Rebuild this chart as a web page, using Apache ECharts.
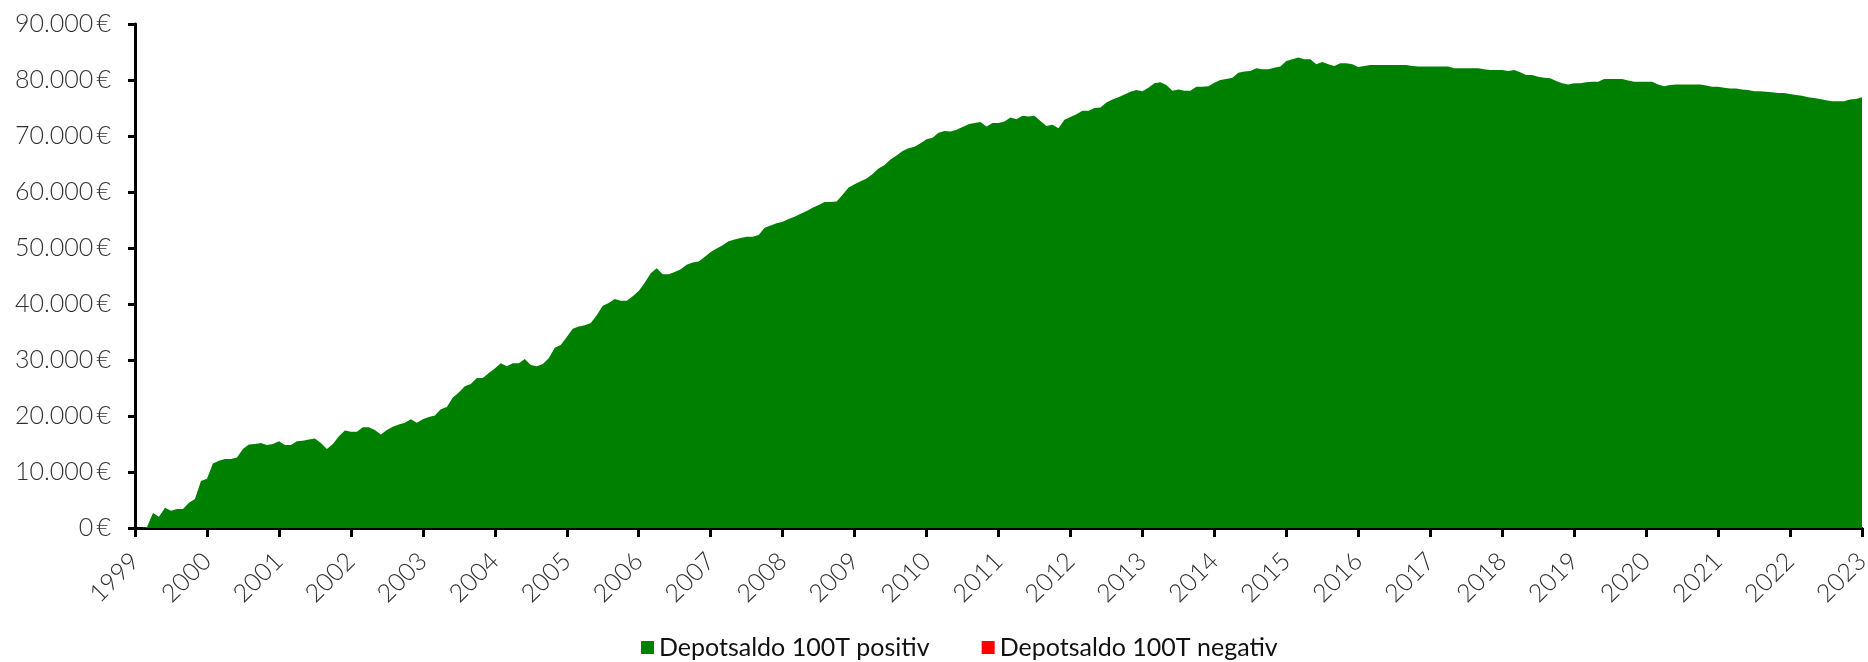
<!DOCTYPE html>
<html>
<head>
<meta charset="utf-8">
<script src="https://cdn.jsdelivr.net/npm/echarts@6/dist/echarts.min.js"></script>
<style>
  html, body { margin: 0; padding: 0; background: #fff; }
  #main { width: 1868px; height: 662px; }
</style>
</head>
<body>
<div id="main"></div>
<script>
// Monatswerte Jan 1999 .. Jan 2023 (eine Zeile pro Jahr)
const depotPositiv = [
  0, 0, 200, 2700, 2000, 3600, 3100, 3400, 3400, 4500, 5200, 8400,
  8800, 11500, 12000, 12300, 12300, 12600, 14100, 14900, 15000, 15200, 14800, 15000,
  15500, 14800, 14800, 15500, 15600, 15800, 16000, 15200, 14100, 15000, 16400, 17400,
  17200, 17200, 18000, 18000, 17500, 16700, 17500, 18100, 18500, 18800, 19400, 18800,
  19400, 19800, 20100, 21200, 21600, 23300, 24200, 25300, 25700, 26800, 26800, 27700,
  28500, 29400, 28900, 29400, 29400, 30200, 29100, 28900, 29300, 30300, 32200, 32700,
  34100, 35600, 36000, 36200, 36600, 38000, 39700, 40200, 40900, 40600, 40600, 41400,
  42300, 43800, 45500, 46400, 45300, 45300, 45700, 46200, 47000, 47400, 47600, 48400,
  49300, 49900, 50500, 51200, 51500, 51800, 52000, 52000, 52300, 53600, 54000, 54400,
  54700, 55200, 55600, 56100, 56600, 57200, 57700, 58200, 58200, 58300, 59500, 60800,
  61400, 61900, 62400, 63200, 64200, 64800, 65800, 66500, 67300, 67800, 68100, 68700,
  69400, 69700, 70600, 70900, 70800, 71100, 71600, 72100, 72300, 72500, 71700, 72300,
  72300, 72600, 73300, 73000, 73600, 73500, 73600, 72700, 71800, 72000, 71400, 72900,
  73400, 73900, 74500, 74500, 75000, 75100, 76000, 76500, 76900, 77400, 77900, 78200,
  78000, 78600, 79400, 79600, 79100, 78100, 78300, 78100, 78100, 78800, 78800, 78900,
  79500, 80000, 80200, 80400, 81300, 81500, 81600, 82100, 81900, 81900, 82200, 82400,
  83400, 83700, 84000, 83700, 83700, 82800, 83200, 82800, 82500, 83000, 83000, 82800,
  82300, 82500, 82700, 82700, 82700, 82700, 82700, 82700, 82700, 82500, 82400, 82400,
  82400, 82400, 82400, 82400, 82100, 82100, 82100, 82100, 82100, 81900, 81800, 81800,
  81800, 81600, 81800, 81400, 80900, 80900, 80600, 80400, 80300, 79800, 79400, 79200,
  79400, 79400, 79600, 79700, 79700, 80200, 80200, 80200, 80200, 79900, 79700, 79700,
  79700, 79700, 79200, 78900, 79100, 79200, 79200, 79200, 79200, 79200, 79000, 78800,
  78800, 78600, 78500, 78500, 78300, 78200, 78000, 78000, 77900, 77800, 77700, 77700,
  77500, 77300, 77200, 76900, 76800, 76600, 76400, 76200, 76200, 76200, 76500, 76600,
  76900
];
const depotNegativ = [];

const startYear = 1999;
const months = [];
for (let i = 0; i < depotPositiv.length; i++) {
  const y = startYear + Math.floor(i / 12);
  const m = (i % 12) + 1;
  months.push(y + '-' + String(m).padStart(2, '0'));
}

const yMin = 0;
const yMax = 90000;
const yStep = 10000;

const fmtEuro = (v) => v.toLocaleString('de-DE') + '\u2009€';
const everyYear = (idx) => idx % 12 === 0;

const myChart = echarts.init(document.getElementById('main'));

const option = {
  animation: false,
  grid: {
    left: 135, right: 6, top: 24, bottom: 134,
    containLabel: false,
    outerBoundsMode: 'none',
  },
  legend: {
    left: 636,
    top: 630,
    itemWidth: 13,
    itemHeight: 13,
    itemGap: 52,
    icon: 'rect',
    textStyle: {
      fontFamily: 'Lato',
      fontSize: 25,
      color: '#111111',
    },
    data: ['Depotsaldo 100T positiv', 'Depotsaldo 100T negativ'],
  },
  xAxis: {
    type: 'category',
    data: months,
    boundaryGap: false,
    axisLine: { lineStyle: { color: '#000000', width: 3 } },
    axisTick: {
      interval: everyYear,
      length: 9,
      lineStyle: { color: '#000000', width: 3 },
    },
    axisLabel: {
      interval: everyYear,
      rotate: 45,
      margin: 29,
      fontFamily: 'Lato',
      fontWeight: 300,
      fontSize: 25,
      color: '#303030',
      formatter: (val) => val.slice(0, 4),
    },
  },
  yAxis: {
    type: 'value',
    min: yMin,
    max: yMax,
    interval: yStep,
    splitLine: { show: false },
    axisLine: { show: true, lineStyle: { color: '#000000', width: 3 } },
    axisTick: { show: true, length: 7, lineStyle: { color: '#000000', width: 3 } },
    axisLabel: {
      margin: 24,
      fontFamily: 'Lato',
      fontWeight: 300,
      fontSize: 25,
      color: '#303030',
      formatter: fmtEuro,
    },
  },
  series: [
    {
      name: 'Depotsaldo 100T positiv',
      type: 'line',
      data: depotPositiv,
      showSymbol: false,
      symbol: 'none',
      color: '#008000',
      lineStyle: { width: 0 },
      areaStyle: { color: '#008000', opacity: 1 },
      z: 1,
    },
    {
      name: 'Depotsaldo 100T negativ',
      type: 'line',
      data: depotNegativ,
      showSymbol: false,
      symbol: 'none',
      color: '#ff0000',
      lineStyle: { width: 0 },
      areaStyle: { color: '#ff0000', opacity: 1 },
    },
  ],
};

myChart.setOption(option);
</script>
</body>
</html>
